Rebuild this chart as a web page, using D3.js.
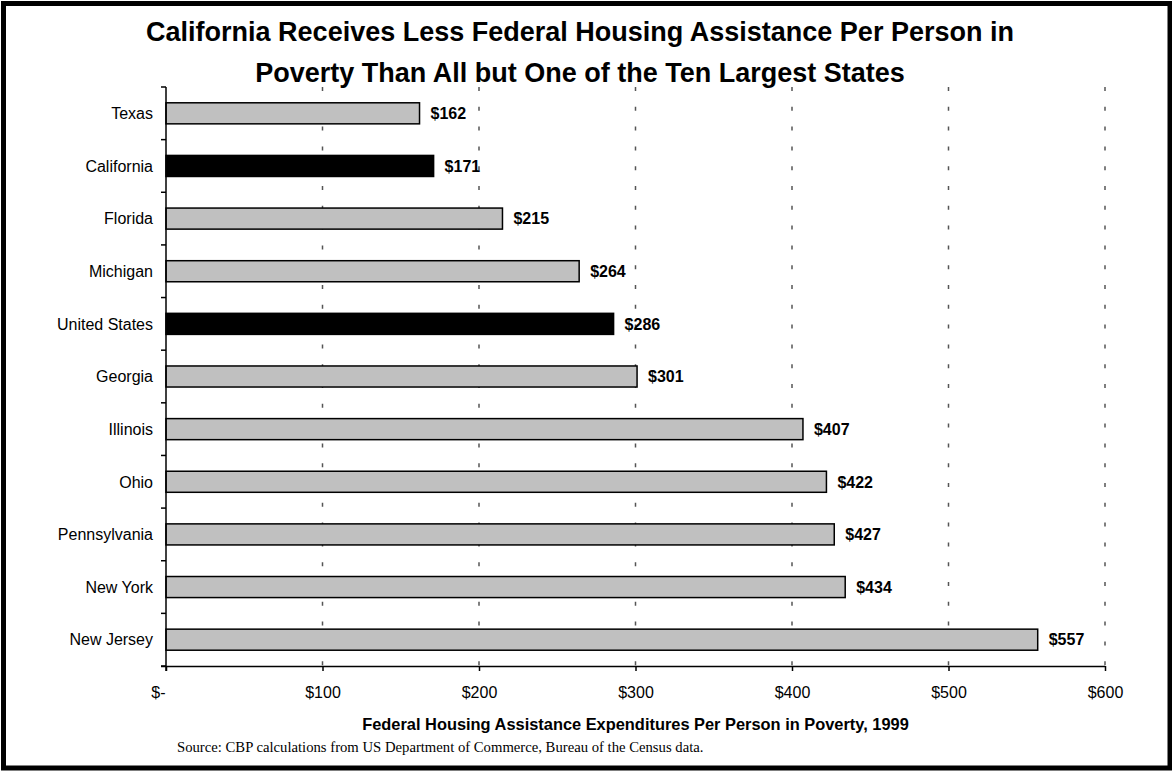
<!DOCTYPE html>
<html>
<head>
<meta charset="utf-8">
<script src="https://cdn.jsdelivr.net/npm/d3@7"></script>
<style>
  html, body { margin: 0; padding: 0; background: #fff; }
  svg { display: block; }
  text { font-family: "Liberation Sans", Arial, sans-serif; fill: #000; }
</style>
</head>
<body>
<svg id="chart" width="1172" height="771"></svg>
<script>
// Federal housing assistance per person in poverty, 1999
const categories = ["Texas", "California", "Florida", "Michigan", "United States", "Georgia",
                    "Illinois", "Ohio", "Pennsylvania", "New York", "New Jersey"];
const values = [162, 171, 215, 264, 286, 301, 407, 422, 427, 434, 557];
const highlighted = ["California", "United States"];
const xTickValues = [0, 100, 200, 300, 400, 500, 600];
const titleLines = [
  "California Receives Less Federal Housing Assistance Per Person in",
  "Poverty Than All but One of the Ten Largest States"
];
const xAxisTitle = "Federal Housing Assistance Expenditures Per Person in Poverty, 1999";
const sourceNote = "Source: CBP calculations from US Department of Commerce, Bureau of the Census data.";

const data = categories.map((c, i) => ({ name: c, value: values[i] }));

const svg = d3.select("#chart");
const plot = { left: 166, right: 1105, top: 87, bottom: 666 };

const x = d3.scaleLinear().domain([0, 600]).range([plot.left, plot.right]);
const y = d3.scaleBand().domain(categories).range([plot.top, plot.bottom])
  .paddingInner(0.6).paddingOuter(0.3);

const money = v => v === 0 ? "$-" : "$" + d3.format(",")(v);

// Outer frame
svg.append("rect")
  .attr("x", 3.5).attr("y", 3.5)
  .attr("width", 1166.5).attr("height", 764.5)
  .attr("fill", "none").attr("stroke", "#000").attr("stroke-width", 5);

// Title
svg.append("g").selectAll("text").data(titleLines).join("text")
  .attr("x", 580).attr("y", (d, i) => 40.5 + i * 41)
  .attr("text-anchor", "middle")
  .style("font-size", "27px").style("font-weight", "bold")
  .text(d => d);

// Dashed vertical gridlines
svg.append("g").selectAll("line").data(xTickValues.filter(v => v > 0)).join("line")
  .attr("x1", d => x(d)).attr("x2", d => x(d))
  .attr("y1", plot.top).attr("y2", plot.bottom)
  .attr("stroke", "#555").attr("stroke-width", 1.5)
  .attr("stroke-dasharray", "4,15.8");

// Bars
svg.append("g").selectAll("rect").data(data).join("rect")
  .attr("x", x(0))
  .attr("y", d => y(d.name))
  .attr("width", d => x(d.value) - x(0))
  .attr("height", y.bandwidth())
  .attr("fill", d => highlighted.includes(d.name) ? "#000" : "#c0c0c0")
  .attr("stroke", "#000").attr("stroke-width", 1.5);

// Value labels
svg.append("g").selectAll("text").data(data).join("text")
  .attr("x", d => x(d.value) + 11)
  .attr("y", d => y(d.name) + y.bandwidth() / 2)
  .attr("dy", "0.36em")
  .style("font-size", "16px").style("font-weight", "bold")
  .text(d => money(d.value));

// X axis
const xAxis = d3.axisBottom(x).tickValues(xTickValues).tickFormat(money)
  .tickSize(5).tickSizeOuter(0).tickPadding(16);
const gx = svg.append("g").attr("transform", `translate(0,${plot.bottom})`).call(xAxis);
gx.select(".domain").attr("stroke", "#000").attr("stroke-width", 1.5)
  .attr("d", `M${plot.left - 5},0.5H${plot.right}`);
gx.selectAll(".tick line").attr("stroke", "#000").attr("stroke-width", 1.5);
gx.selectAll(".tick text")
  .style("font-size", "16px").style("font-family", "'Liberation Sans', Arial, sans-serif")
  .attr("fill", "#000");
gx.selectAll(".tick").filter(d => d === 0).select("text")
  .attr("text-anchor", "end").attr("x", -1);

// Y axis: ticks sit on the band boundaries
const boundaries = d3.range(categories.length + 1).map(i => plot.top + i * y.step());
const gy = svg.append("g");
gy.append("line")
  .attr("x1", plot.left).attr("x2", plot.left)
  .attr("y1", plot.top).attr("y2", plot.bottom + 5)
  .attr("stroke", "#000").attr("stroke-width", 1.5);
gy.selectAll("line.tick").data(boundaries).join("line").attr("class", "tick")
  .attr("x1", plot.left - 5).attr("x2", plot.left)
  .attr("y1", d => d).attr("y2", d => d)
  .attr("stroke", "#000").attr("stroke-width", 1.5);
gy.selectAll("text").data(categories).join("text")
  .attr("x", 153)
  .attr("y", d => y(d) + y.bandwidth() / 2)
  .attr("dy", "0.36em")
  .attr("text-anchor", "end")
  .style("font-size", "16px")
  .text(d => d);

// Axis title
svg.append("text")
  .attr("x", (plot.left + plot.right) / 2).attr("y", 730)
  .attr("text-anchor", "middle")
  .style("font-size", "16.4px").style("font-weight", "bold")
  .text(xAxisTitle);

// Source note
svg.append("text")
  .attr("x", 177).attr("y", 752)
  .style("font-family", "'Liberation Serif', 'Times New Roman', serif")
  .style("font-size", "14.7px")
  .text(sourceNote);
</script>
</body>
</html>
